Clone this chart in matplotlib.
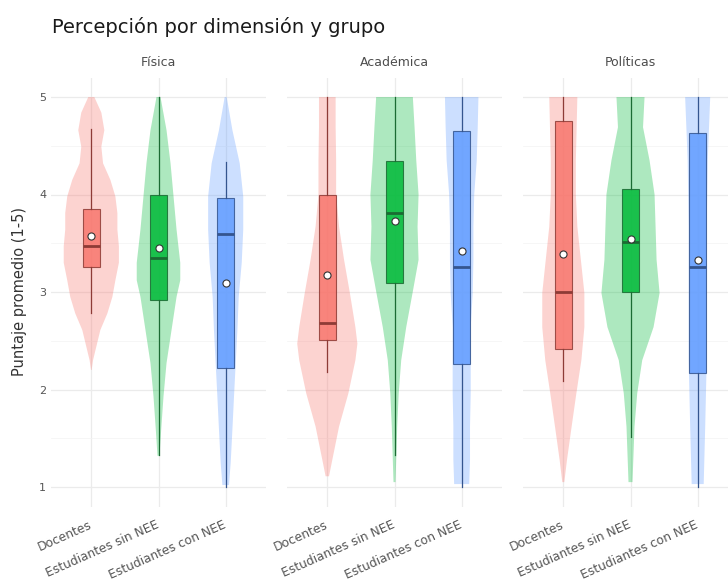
import matplotlib.pyplot as plt

plt.rcParams['font.family'] = ['DejaVu Sans']

dims = ['Física', 'Académica', 'Políticas']
groups = ['Docentes', 'Estudiantes sin NEE', 'Estudiantes con NEE']
colors = ['#F8766D', '#00BA38', '#619CFF']
edges = ['#8E3B36', '#1B6B33', '#34558F']

# box stats per group: whislo, q1, median, q3, whishi
fis_box = [[2.78, 3.26, 3.47, 3.85, 4.67], [1.33, 2.92, 3.35, 4.00, 5.00], [1.00, 2.22, 3.60, 3.96, 4.33]]
aca_box = [[2.18, 2.51, 2.68, 4.00, 5.00], [1.33, 3.09, 3.81, 4.34, 5.00], [1.00, 2.26, 3.26, 4.65, 5.00]]
pol_box = [[2.09, 2.42, 3.00, 4.75, 5.00], [1.51, 3.00, 3.51, 4.06, 5.00], [1.00, 2.17, 3.26, 4.63, 5.00]]
fis_mean = [3.57, 3.45, 3.09]
aca_mean = [3.17, 3.73, 3.42]
pol_mean = [3.39, 3.54, 3.33]

# violin outlines: score levels and relative density
fis_doc_y = [5.0, 4.84, 4.66, 4.49, 4.32, 4.15, 3.98, 3.81, 3.64, 3.47, 3.30, 3.12, 2.95, 2.78, 2.61, 2.44, 2.30, 2.20]
fis_doc_d = [3, 10, 13, 10, 11.7, 19, 24, 26, 26, 27.5, 27.5, 24, 21, 16, 9, 5, 1.7, 0.3]
fis_sin_y = [5.0, 4.66, 4.32, 3.98, 3.64, 3.30, 3.12, 2.95, 2.61, 2.27, 1.93, 1.59, 1.32]
fis_sin_d = [2, 8, 12, 15, 18, 21.7, 21.7, 18, 13, 8, 5, 2.7, 1]
fis_con_y = [5.0, 4.66, 4.32, 3.98, 3.64, 3.30, 2.95, 2.61, 2.27, 1.93, 1.59, 1.25, 1.02]
fis_con_d = [1, 6.7, 14, 17.5, 17.5, 16, 13, 11.7, 10, 8.3, 6.7, 5, 3.3]

aca_doc_y = [5.0, 4.69, 4.35, 4.0, 3.67, 3.33, 2.99, 2.64, 2.47, 2.30, 1.96, 1.62, 1.28, 1.11]
aca_doc_d = [8.3, 8.3, 8.8, 8.8, 11.7, 16.7, 22.5, 28, 30, 28, 21, 11.7, 5, 1.7]
aca_sin_y = [5.0, 4.69, 4.35, 4.0, 3.67, 3.33, 2.99, 2.64, 2.30, 1.96, 1.62, 1.28, 1.05]
aca_sin_d = [18.3, 20, 21.7, 24, 23, 24, 18, 11.7, 6.7, 4.2, 2.7, 1.7, 1]
aca_con_y = [5.0, 4.69, 4.35, 4.0, 3.67, 3.33, 2.99, 2.64, 2.30, 1.96, 1.62, 1.28, 1.03]
aca_con_d = [16.7, 16, 15, 12.5, 11.7, 11.7, 11, 9, 9, 9, 8.3, 8.3, 7.5]

pol_doc_y = [5.0, 4.69, 4.35, 4.0, 3.67, 3.33, 2.99, 2.64, 2.30, 1.96, 1.62, 1.28, 1.05]
pol_doc_d = [14, 13.3, 12.5, 12.5, 14, 17.5, 21, 21, 18, 13, 8.3, 3.7, 1]
pol_sin_y = [5.0, 4.69, 4.35, 4.0, 3.67, 3.33, 2.99, 2.64, 2.30, 1.96, 1.62, 1.28, 1.05]
pol_sin_d = [14, 12.5, 19, 24, 25, 26, 29, 23, 11.7, 6.7, 4, 2.8, 2]
pol_con_y = [5.0, 4.35, 3.67, 2.99, 2.30, 1.62, 1.03]
pol_con_d = [12.5, 10, 9, 9, 9, 7.5, 6]

boxes = [fis_box, aca_box, pol_box]
means = [fis_mean, aca_mean, pol_mean]
violins = [
    [(fis_doc_y, fis_doc_d), (fis_sin_y, fis_sin_d), (fis_con_y, fis_con_d)],
    [(aca_doc_y, aca_doc_d), (aca_sin_y, aca_sin_d), (aca_con_y, aca_con_d)],
    [(pol_doc_y, pol_doc_d), (pol_sin_y, pol_sin_d), (pol_con_y, pol_con_d)],
]

PX_PER_CAT = 67.0  # density units are pixels of half-width

fig = plt.figure(figsize=(7.28, 5.84), dpi=100)
lefts = [51 / 728, 287 / 728, 523 / 728]
bottom, height = 77.5 / 584, 429 / 584
pos = [1, 2, 3]

for k, dim in enumerate(dims):
    ax = fig.add_axes([lefts[k], bottom, 215 / 728, height])

    # violins
    stats = []
    widths = []
    for y, d in violins[k]:
        stats.append({'coords': y, 'vals': d, 'mean': 0, 'median': 0, 'min': min(y), 'max': max(y)})
        widths.append(2 * max(d) / PX_PER_CAT)
    vp = ax.violin(stats, positions=pos, widths=widths, showextrema=False)
    for body, c in zip(vp['bodies'], colors):
        body.set_facecolor(c)
        body.set_edgecolor('none')
        body.set_alpha(0.32)

    # boxes
    bstats = []
    for b in boxes[k]:
        bstats.append({'whislo': b[0], 'q1': b[1], 'med': b[2], 'q3': b[3], 'whishi': b[4], 'fliers': []})
    bp = ax.bxp(bstats, positions=pos, widths=0.26, patch_artist=True, showcaps=False,
                showfliers=False, manage_ticks=False)
    for i in range(3):
        bp['boxes'][i].set_facecolor(colors[i])
        bp['boxes'][i].set_alpha(0.85)
        bp['boxes'][i].set_edgecolor(edges[i])
        bp['boxes'][i].set_linewidth(0.8)
        bp['medians'][i].set_color(edges[i])
        bp['medians'][i].set_linewidth(2)
        for w in bp['whiskers'][2 * i:2 * i + 2]:
            w.set_color(edges[i])
            w.set_linewidth(0.9)

    ax.scatter(pos, means[k], s=26, facecolor='white', edgecolor='#333333', linewidth=0.8, zorder=5)

    ax.set_xlim(0.4, 3.6)
    ax.set_ylim(0.8, 5.2)
    for s in ax.spines.values():
        s.set_visible(False)
    ax.set_yticks([1, 2, 3, 4, 5])
    ax.set_yticks([1.5, 2.5, 3.5, 4.5], minor=True)
    ax.set_xticks(pos)
    ax.grid(True, which='major', color='#EBEBEB', lw=0.9)
    ax.grid(True, which='minor', axis='y', color='#F3F3F3', lw=0.5)
    ax.set_axisbelow(True)
    ax.tick_params(which='both', length=0, labelsize=8, labelcolor='#555555')
    ax.tick_params(axis='x', pad=13, labelsize=8.8)
    ax.set_xticklabels(groups, rotation=24, ha='right', va='center', rotation_mode='anchor')
    if k > 0:
        ax.set_yticklabels([])
    else:
        ax.set_ylabel('Puntaje promedio (1-5)', fontsize=10.5, color='#333333', labelpad=9)

    fig.text(lefts[k] + 107.5 / 728, (584 - 62) / 584, dim, ha='center', va='center',
             fontsize=9, color='#4D4D4D')

fig.text(52 / 728, (584 - 33) / 584, 'Percepción por dimensión y grupo', ha='left', va='baseline',
         fontsize=14, color='#1A1A1A')

fig.savefig('out.png', dpi=100)
